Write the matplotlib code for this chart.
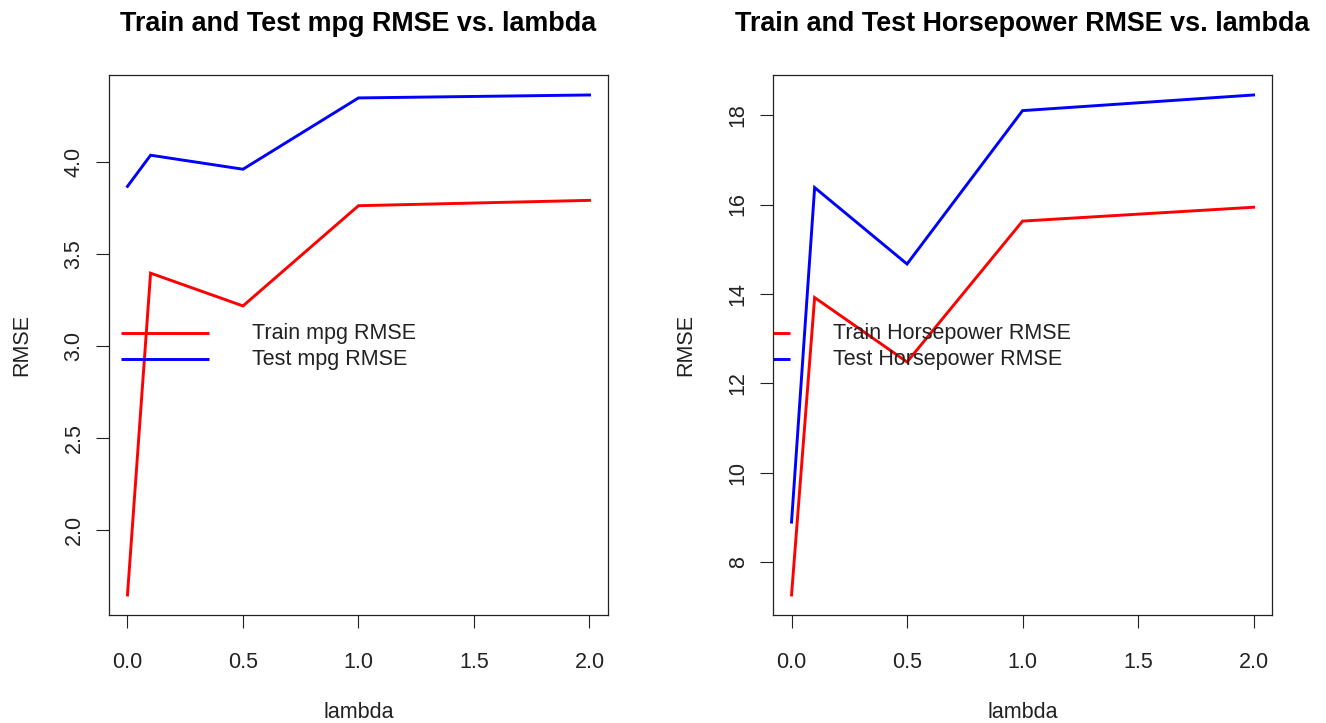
import numpy as np
import matplotlib
matplotlib.use("Agg")
import matplotlib.pyplot as plt

plt.rcParams["font.family"] = ["Liberation Sans", "DejaVu Sans"]

# ridge penalty values and the resulting RMSE on train / test splits
lambdas = [0.0, 0.1, 0.5, 1.0, 2.0]

mpg_train = [1.649, 3.396, 3.218, 3.762, 3.791]
mpg_test = [3.867, 4.036, 3.960, 4.347, 4.363]

hp_train = [7.27, 13.92, 12.48, 15.63, 15.94]
hp_test = [8.90, 16.38, 14.67, 18.10, 18.45]

x_ticks = [0.0, 0.5, 1.0, 1.5, 2.0]
mpg_yticks = [2.0, 2.5, 3.0, 3.5, 4.0]
hp_yticks = [8, 10, 12, 14, 16, 18]

AXIS_COLOR = "#222222"
FS = 15.5


def draw_panel(ax, train, test, yticks, ytick_fmt, title, names, leg_x):
    ax.plot(lambdas, train, color="#ff0000", lw=2.1, solid_joinstyle="miter")
    ax.plot(lambdas, test, color="#0000ff", lw=2.1, solid_joinstyle="miter")
    ax.margins(x=0.04, y=0.04)

    ax.set_xticks(x_ticks)
    ax.set_xticklabels([f"{v:.1f}" for v in x_ticks])
    ax.set_yticks(yticks)
    ax.set_yticklabels([ytick_fmt.format(v) for v in yticks])
    for lbl in ax.get_yticklabels():
        lbl.set_rotation(90)
        lbl.set_va("center")
    ax.tick_params(axis="both", length=9.5, width=0.8, color=AXIS_COLOR,
                   labelsize=FS, labelcolor=AXIS_COLOR)
    ax.tick_params(axis="x", pad=17)
    ax.tick_params(axis="y", pad=8)
    for sp in ax.spines.values():
        sp.set_linewidth(0.9)
        sp.set_color(AXIS_COLOR)

    ax.set_title(title, fontsize=19.4, fontweight="bold", pad=32)
    ax.text(0.5, -0.180, "lambda", transform=ax.transAxes, ha="center",
            va="center", fontsize=FS, color=AXIS_COLOR)
    ax.text(-0.174, 0.5, "RMSE", transform=ax.transAxes, ha="center",
            va="center", rotation=90, fontsize=FS, color=AXIS_COLOR)

    # legend without a box, clipped to the plotting region like R does
    x0, x1, xt = leg_x
    for yy, col, name in zip([0.522, 0.474], ["#ff0000", "#0000ff"], names):
        ax.plot([x0, x1], [yy, yy], color=col, lw=2.1, transform=ax.transAxes,
                clip_on=True, solid_capstyle="butt")
        ax.text(xt, yy, name, transform=ax.transAxes, ha="left", va="center",
                fontsize=FS, color=AXIS_COLOR)


fig = plt.figure(figsize=(13.26, 7.23), dpi=100)
ax1 = fig.add_axes([0.0822, 0.1494, 0.3763, 0.7469])
ax2 = fig.add_axes([0.5830, 0.1494, 0.3763, 0.7469])

draw_panel(ax1, mpg_train, mpg_test, mpg_yticks, "{:.1f}",
           "Train and Test mpg RMSE vs. lambda",
           ["Train mpg RMSE", "Test mpg RMSE"], (0.024, 0.200, 0.287))
draw_panel(ax2, hp_train, hp_test, hp_yticks, "{:d}",
           "Train and Test Horsepower RMSE vs. lambda",
           ["Train Horsepower RMSE", "Test Horsepower RMSE"], (-0.142, 0.034, 0.120))

fig.savefig("out.png", dpi=100, facecolor="white")
